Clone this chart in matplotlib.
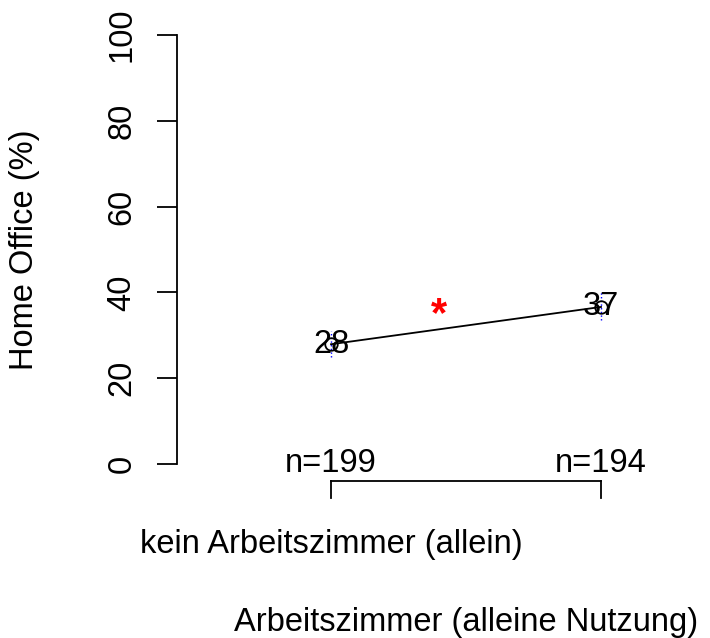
import matplotlib
matplotlib.use("Agg")
import matplotlib.pyplot as plt
from matplotlib.transforms import blended_transform_factory

plt.rcParams['font.family'] = ['Liberation Sans', 'DejaVu Sans']

categories = ["kein Arbeitszimmer (allein)", "Arbeitszimmer (alleine Nutzung)"]
x_pos = [1, 2]
values = [27.9, 36.6]
ci_low = [24.9, 33.6]
ci_high = [31.0, 40.3]
n_obs = [199, 194]
yticks = [0, 20, 40, 60, 80, 100]
sig_x, sig_y = 1.4, 34.6

FS = 23.5
W, H = 710, 638
fig = plt.figure(figsize=(W / 100, H / 100), dpi=100)
ax = fig.add_axes([177 / W, 1 - 481 / H, (709 - 177) / W, (481 - 18) / H])
ax.set_xlim(1 - 154 / 270, 1 + 378 / 270)
ax.set_ylim(-4, 104)

for s in ['top', 'right', 'bottom']:
    ax.spines[s].set_visible(False)
ax.spines['left'].set_bounds(0, 100)
ax.spines['left'].set_linewidth(1.3)
ax.set_yticks(yticks)
ax.set_yticklabels([str(t) for t in yticks], rotation=90, va='center', fontsize=FS)
ax.tick_params(axis='y', length=14.5, width=1.3, pad=14)
ax.set_xticks([])
ax.set_ylabel("Home Office (%)", fontsize=FS)
ax.yaxis.set_label_coords(40 / W, 1 - 250 / H, transform=fig.transFigure)

# error bars
ax.vlines(x_pos, ci_low, ci_high, colors='blue', linestyles=':', linewidth=1)
# line + points
ax.plot(x_pos, values, color='black', linewidth=1.3, marker='o', markersize=9,
        markerfacecolor='none', markeredgewidth=1.3, zorder=3)
for x, v in zip(x_pos, values):
    ax.text(x, v, f"{round(v)}", ha='center', va='center', fontsize=FS, zorder=4)

ax.text(sig_x, sig_y, "*", color='red', ha='center', va='center', fontsize=30,
        fontweight='bold')

for x, nn in zip(x_pos, n_obs):
    ax.text(x, 0, f"n={nn}", ha='center', va='center', fontsize=FS)

# bracket axis
ax.plot(x_pos, [-4, -4], color='black', linewidth=1.3, clip_on=False)
for x in x_pos:
    ax.plot([x, x], [-4, -8], color='black', linewidth=1.3, clip_on=False)

tr = blended_transform_factory(ax.transData, fig.transFigure)
ax.text(x_pos[0], 1 - 545 / H, categories[0], transform=tr, ha='center', va='center', fontsize=FS)
ax.text((x_pos[0] + x_pos[1]) / 2, 1 - 622 / H, categories[1], transform=tr, ha='center',
        va='center', fontsize=FS)

fig.savefig("out.png", dpi=100)
